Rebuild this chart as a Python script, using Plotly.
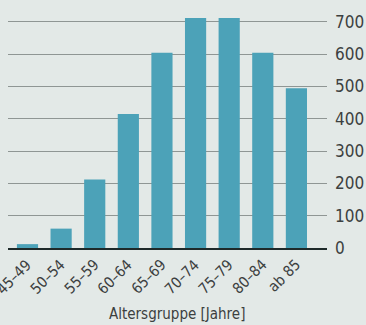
import plotly.graph_objects as go

categories = ["45–49", "50–54", "55–59", "60–64", "65–69", "70–74", "75–79", "80–84", "ab 85"]
values = [12, 60, 212, 415, 605, 712, 712, 605, 495]
y_ticks = [0, 100, 200, 300, 400, 500, 600, 700]
x_title = "Altersgruppe [Jahre]"

FONT = "DejaVu Sans Condensed, Liberation Sans Narrow, sans-serif"
TXT = "#3c4040"

fig = go.Figure(go.Bar(
    x=list(range(len(categories))), y=values,
    marker=dict(color="#4ca2b8", line=dict(width=0)),
    width=0.63,
))

for i, c in enumerate(categories):
    fig.add_annotation(
        x=i + 0.3, y=-0.02, xref="x", yref="paper",
        text=c, textangle=-45, showarrow=False,
        xanchor="right", yanchor="top",
        font=dict(size=15, family=FONT, color=TXT),
    )

fig.add_annotation(
    x=0.53, y=-0.268, xref="paper", yref="paper", text=x_title,
    showarrow=False, xanchor="center", yanchor="middle",
    font=dict(size=15, family=FONT, color=TXT),
)

fig.update_layout(
    width=366, height=325,
    margin=dict(l=8, r=39, t=0, b=77),
    paper_bgcolor="#e3e9e7", plot_bgcolor="#e3e9e7",
    showlegend=False,
    font=dict(family=FONT, color=TXT),
    xaxis=dict(
        range=[-0.58, 8.91], showticklabels=False, showgrid=False, ticks="",
        showline=True, linecolor="#1e2a2a", linewidth=2,
        fixedrange=True,
    ),
    yaxis=dict(
        side="right", range=[0, 768], tickvals=y_ticks,
        showgrid=True, gridcolor="#8f9694", gridwidth=1,
        zeroline=False, ticks="", tickfont=dict(size=17, family=FONT, color=TXT),
        ticklabelstandoff=7,
        fixedrange=True,
    ),
)

fig.write_html("out.html")
